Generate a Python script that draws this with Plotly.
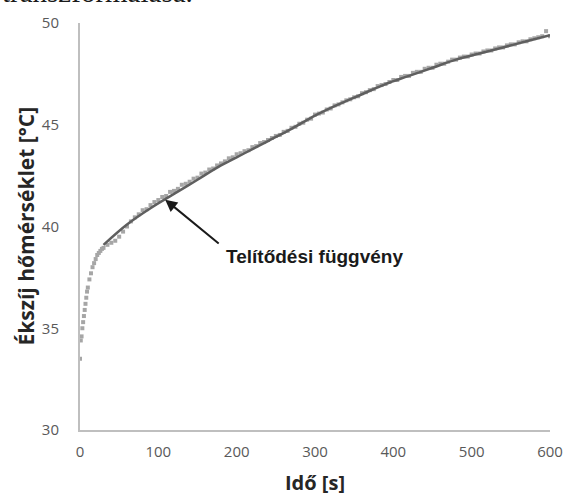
import plotly.graph_objects as go

# Measured data (time [s], belt temperature [°C])
meas_t = [0, 1, 2, 3, 4, 5, 6, 7, 8, 9, 10, 12, 14, 16, 18, 20, 22, 24, 26, 28,
          30, 35, 40, 45, 50, 55, 60, 65, 70, 75, 80, 85, 90, 95, 100, 105, 110, 115, 120, 125,
          130, 135, 140, 145, 150, 155, 160, 165, 170, 175, 180, 185, 190, 195, 200, 205, 210, 215, 220, 225,
          230, 235, 240, 245, 250, 255, 260, 265, 270, 275, 280, 285, 290, 295, 300, 305, 310, 315, 320, 325,
          330, 335, 340, 345, 350, 355, 360, 365, 370, 375, 380, 385, 390, 395, 400, 405, 410, 415, 420, 425,
          430, 435, 440, 445, 450, 455, 460, 465, 470, 475, 480, 485, 490, 495, 500, 505, 510, 515, 520, 525,
          530, 535, 540, 545, 550, 555, 560, 565, 570, 575, 580, 585, 590, 595, 600]
meas_T = [33.5, 34.4, 34.6, 35.0, 35.3, 35.6, 35.9, 36.2, 36.5, 36.8, 37.0, 37.4, 37.7, 38.0, 38.2, 38.4, 38.6, 38.7, 38.8, 38.9,
          38.95, 39.1, 39.2, 39.3, 39.5, 39.75, 40.0, 40.25, 40.45, 40.6, 40.8, 40.85, 41.05, 41.2, 41.3, 41.45, 41.5, 41.7, 41.75, 41.85,
          42.05, 42.1, 42.2, 42.35, 42.4, 42.6, 42.65, 42.8, 42.85, 43.0, 43.1, 43.2, 43.35, 43.4, 43.55, 43.6, 43.7, 43.75, 43.9, 43.95,
          44.1, 44.15, 44.25, 44.35, 44.45, 44.5, 44.65, 44.7, 44.85, 44.9, 45.05, 45.1, 45.25, 45.3, 45.5, 45.55, 45.6, 45.75, 45.8, 45.95,
          46.0, 46.1, 46.2, 46.25, 46.35, 46.4, 46.55, 46.6, 46.7, 46.75, 46.9, 46.95, 47.0, 47.1, 47.2, 47.2, 47.35, 47.4, 47.4, 47.55,
          47.6, 47.6, 47.75, 47.8, 47.8, 47.95, 48.0, 48.0, 48.1, 48.2, 48.2, 48.3, 48.35, 48.35, 48.45, 48.5, 48.5, 48.6, 48.65, 48.65,
          48.75, 48.8, 48.8, 48.9, 48.95, 48.95, 49.05, 49.1, 49.1, 49.2, 49.25, 49.3, 49.35, 49.6, 49.35]

# Saturation (fit) function
fit_t = [30, 60, 90, 120, 150, 180, 210, 240, 270, 300, 330, 360, 390, 420, 450, 480, 510, 540, 570, 600]
fit_T = [39.1, 40.1, 40.9, 41.6, 42.3, 43.0, 43.6, 44.2, 44.8, 45.45, 46.0, 46.5, 47.0, 47.4, 47.8, 48.2, 48.5, 48.8, 49.1, 49.4]

x_ticks = [0, 100, 200, 300, 400, 500, 600]
y_ticks = [30, 35, 40, 45, 50]

annot_text = "Telítődési függvény"
arrow_tip = (108.75, 41.32)
text_pos = (183.75, 38.54)

fig = go.Figure()
fig.add_trace(go.Scatter(x=meas_t, y=meas_T, mode="markers",
                         marker=dict(symbol="square", size=4, color="#a6a6a6"),
                         showlegend=False, hoverinfo="skip"))
fig.add_trace(go.Scatter(x=fit_t, y=fit_T, mode="lines", line_shape="spline",
                         line=dict(color="#5f5f5f", width=2.5),
                         showlegend=False, hoverinfo="skip"))

fig.update_layout(
    width=575, height=496,
    margin=dict(l=80, r=15, t=20, b=66),
    paper_bgcolor="white", plot_bgcolor="white",
    font=dict(family="Open Sans", color="#595959"),
    xaxis=dict(range=[0, 600], tickvals=x_ticks, showgrid=False, zeroline=False,
               showline=True, linecolor="#bfbfbf", linewidth=2, ticks="",
               ticklabelstandoff=7, tickfont=dict(size=15, color="#595959")),
    yaxis=dict(range=[30, 50], tickvals=y_ticks, showgrid=False, zeroline=False,
               showline=True, linecolor="#bfbfbf", linewidth=2, ticks="",
               ticklabelstandoff=16, tickfont=dict(size=15, color="#595959")),
    annotations=[
        dict(text="Ékszíj hőmérséklet [°C]", xref="paper", yref="paper",
             x=-0.117, y=0.5, xanchor="center", yanchor="middle",
             textangle=-90, showarrow=False,
             font=dict(family="Open Sans", size=21, color="#262626", weight="bold")),
        dict(text="Idő [s]", xref="paper", yref="paper", x=0.5, y=-0.128,
             xanchor="center", yanchor="middle", showarrow=False,
             font=dict(family="Open Sans", size=20, color="#262626", weight="bold")),
        dict(text="", x=arrow_tip[0], y=arrow_tip[1], xref="x", yref="y",
             showarrow=True, arrowhead=2, arrowsize=1.2, arrowwidth=2,
             arrowcolor="#1a1a1a", ax=55, ay=45),
        dict(text=annot_text, x=text_pos[0], y=text_pos[1], xref="x", yref="y",
             xanchor="left", yanchor="middle", showarrow=False,
             font=dict(family="Liberation Sans", size=19, color="#1a1a1a", weight="bold")),
        dict(text="transzformálása.", xref="paper", yref="paper", x=-0.17, y=1.075,
             xanchor="left", yanchor="middle", showarrow=False,
             font=dict(family="Liberation Serif", size=29, color="#1a1a1a")),
    ],
)

fig.write_html("out.html")
